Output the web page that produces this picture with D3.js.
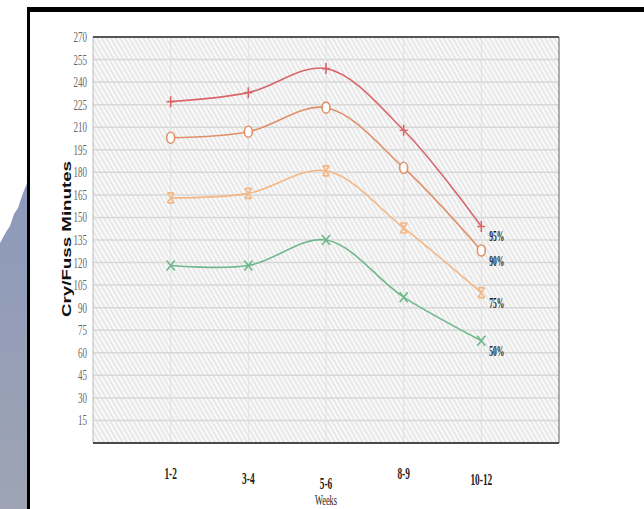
<!DOCTYPE html>
<html>
<head>
<meta charset="utf-8">
<script src="https://cdn.jsdelivr.net/npm/d3@7"></script>
<style>
  html, body { margin: 0; padding: 0; background: #fff; }
  svg { display: block; }
</style>
</head>
<body>
<script>
// data
const weeks = ["1-2", "3-4", "5-6", "8-9", "10-12"];
const p95 = [227, 233, 249, 208, 144];
const p90 = [203, 207, 223, 183, 128];
const p75 = [163, 166, 181, 143, 100];
const p50 = [118, 118, 135, 97, 68];
const seriesNames = ["95%", "90%", "75%", "50%"];
const yTicks = [15, 30, 45, 60, 75, 90, 105, 120, 135, 150, 165, 180, 195, 210, 225, 240, 255, 270];

const w = 644;
const h = 509;
const plot = { left: 93, right: 559, top: 37, bottom: 443 };
// staggered baselines of the week labels
const weekLabelY = [479, 484, 489, 479, 485];

const series = [
  { name: seriesNames[0], values: p95, color: "#d9676a", marker: "plus" },
  { name: seriesNames[1], values: p90, color: "#df9068", marker: "circle" },
  { name: seriesNames[2], values: p75, color: "#f4b682", marker: "hourglass" },
  { name: seriesNames[3], values: p50, color: "#6fb88b", marker: "cross" }
];

const svg = d3.select("body").append("svg").attr("width", w).attr("height", h);
const defs = svg.append("defs");

// hatching in the plot area
const hatch = defs.append("pattern")
  .attr("id", "hatch")
  .attr("patternUnits", "userSpaceOnUse")
  .attr("width", 4)
  .attr("height", 4)
  .attr("patternTransform", "rotate(-30)");
hatch.append("rect").attr("width", 4).attr("height", 4).attr("fill", "#fafafa");
hatch.append("line").attr("x1", 1).attr("y1", 0).attr("x2", 1).attr("y2", 4)
  .attr("stroke", "#d6d6d6").attr("stroke-width", 1);

const grad = defs.append("linearGradient").attr("id", "strip")
  .attr("x1", 0).attr("y1", 0).attr("x2", 0).attr("y2", 1);
grad.append("stop").attr("offset", "0%").attr("stop-color", "#8c99bb");
grad.append("stop").attr("offset", "100%").attr("stop-color", "#9ea4b3");

// frame of the slide
svg.append("path")
  .attr("d", "M0,243 L6,232 L10,226 L14,214 L18,208 L22,196 L25,188 L28,181 L28,509 L0,509 Z")
  .attr("fill", "url(#strip)");
svg.append("rect").attr("x", 27).attr("y", 7).attr("width", w - 27).attr("height", 5).attr("fill", "#000");
svg.append("rect").attr("x", 27).attr("y", 7).attr("width", 3).attr("height", h - 7).attr("fill", "#000");

// scales
const xScale = d3.scalePoint().domain(weeks).range([plot.left, plot.right]).padding(1);
const yScale = d3.scaleLinear().domain([0, 270]).range([plot.bottom, plot.top]);

svg.append("rect")
  .attr("x", plot.left).attr("y", plot.top)
  .attr("width", plot.right - plot.left).attr("height", plot.bottom - plot.top)
  .attr("fill", "url(#hatch)");

// grid
svg.append("g").selectAll("line").data(yTicks).enter().append("line")
  .attr("x1", plot.left).attr("x2", plot.right)
  .attr("y1", (d) => yScale(d)).attr("y2", (d) => yScale(d))
  .attr("stroke", "#d8d8d8").attr("stroke-width", 1.5);
svg.append("g").selectAll("line").data(weeks).enter().append("line")
  .attr("x1", (d) => xScale(d)).attr("x2", (d) => xScale(d))
  .attr("y1", plot.top).attr("y2", plot.bottom)
  .attr("stroke", "#e0e0e0").attr("stroke-width", 1);

// borders
svg.append("line").attr("x1", plot.left).attr("x2", plot.left).attr("y1", plot.top).attr("y2", plot.bottom)
  .attr("stroke", "#bdbdbd").attr("stroke-width", 1);
svg.append("line").attr("x1", plot.right).attr("x2", plot.right).attr("y1", plot.top).attr("y2", plot.bottom)
  .attr("stroke", "#7a7a7a").attr("stroke-width", 1.2);
svg.append("line").attr("x1", plot.left).attr("x2", plot.right).attr("y1", plot.top).attr("y2", plot.top)
  .attr("stroke", "#555").attr("stroke-width", 2);
svg.append("line").attr("x1", plot.left).attr("x2", plot.right).attr("y1", plot.bottom).attr("y2", plot.bottom)
  .attr("stroke", "#4a4a4a").attr("stroke-width", 2.2);

// y tick labels
svg.append("g").selectAll("text").data(yTicks).enter().append("text")
  .attr("transform", (d) => "translate(87," + (yScale(d) + 5) + ") scale(0.6,1)")
  .attr("text-anchor", "end")
  .attr("font-family", "Liberation Serif, serif")
  .attr("font-size", 15)
  .attr("fill", "#666")
  .text((d) => d);

// x tick labels
svg.append("g").selectAll("text").data(weeks).enter().append("text")
  .attr("transform", (d, i) => "translate(" + xScale(d) + "," + weekLabelY[i] + ") scale(0.55,1)")
  .attr("text-anchor", "middle")
  .attr("font-family", "Liberation Serif, serif")
  .attr("font-weight", "bold")
  .attr("font-size", 17)
  .attr("fill", "#222")
  .text((d) => d);

// axis titles
svg.append("text")
  .attr("transform", "translate(326,505) scale(0.6,1)")
  .attr("text-anchor", "middle")
  .attr("font-family", "Liberation Serif, serif")
  .attr("font-size", 14)
  .attr("fill", "#222")
  .text("Weeks");

svg.append("text")
  .attr("transform", "translate(71,239) rotate(-90)")
  .attr("text-anchor", "middle")
  .attr("font-family", "Liberation Sans, Arial, sans-serif")
  .attr("font-weight", "bold")
  .attr("font-size", 12.5)
  .attr("textLength", 156)
  .attr("lengthAdjust", "spacingAndGlyphs")
  .attr("fill", "#111")
  .text("Cry/Fuss Minutes");

// lines
const line = d3.line()
  .x((d, i) => xScale(weeks[i]))
  .y((d) => yScale(d))
  .curve(d3.curveCatmullRom.alpha(0.5));

const markerPaths = {
  plus: "M-4,0 L4,0 M0,-5.5 L0,5.5",
  hourglass: "M-3,-5 L3,-5 M-3,5 L3,5 M-3.5,-5 L3.5,5 M3.5,-5 L-3.5,5",
  cross: "M-4,-5 L4,5 M4,-5 L-4,5"
};

series.forEach((s) => {
  svg.append("path")
    .attr("d", line(s.values))
    .attr("fill", "none")
    .attr("stroke", s.color)
    .attr("stroke-width", 1.6);

  const g = svg.append("g");
  s.values.forEach((v, i) => {
    const cx = xScale(weeks[i]);
    const cy = yScale(v);
    if (s.marker === "circle") {
      g.append("ellipse")
        .attr("cx", cx).attr("cy", cy).attr("rx", 4).attr("ry", 5.5)
        .attr("fill", "#fff").attr("stroke", s.color).attr("stroke-width", 1.6);
    } else {
      g.append("path")
        .attr("transform", "translate(" + cx + "," + cy + ")")
        .attr("d", markerPaths[s.marker])
        .attr("fill", "none").attr("stroke", s.color).attr("stroke-width", 1.6);
    }
  });

  // series label next to the last point
  const last = s.values.length - 1;
  svg.append("text")
    .attr("transform", "translate(" + (xScale(weeks[last]) + 8) + "," + (yScale(s.values[last]) + 15) + ") scale(0.5,1)")
    .attr("font-family", "Liberation Serif, serif")
    .attr("font-weight", "bold")
    .attr("font-size", 15)
    .attr("fill", "#1a1a1a")
    .text(s.name);
});
</script>
</body>
</html>
